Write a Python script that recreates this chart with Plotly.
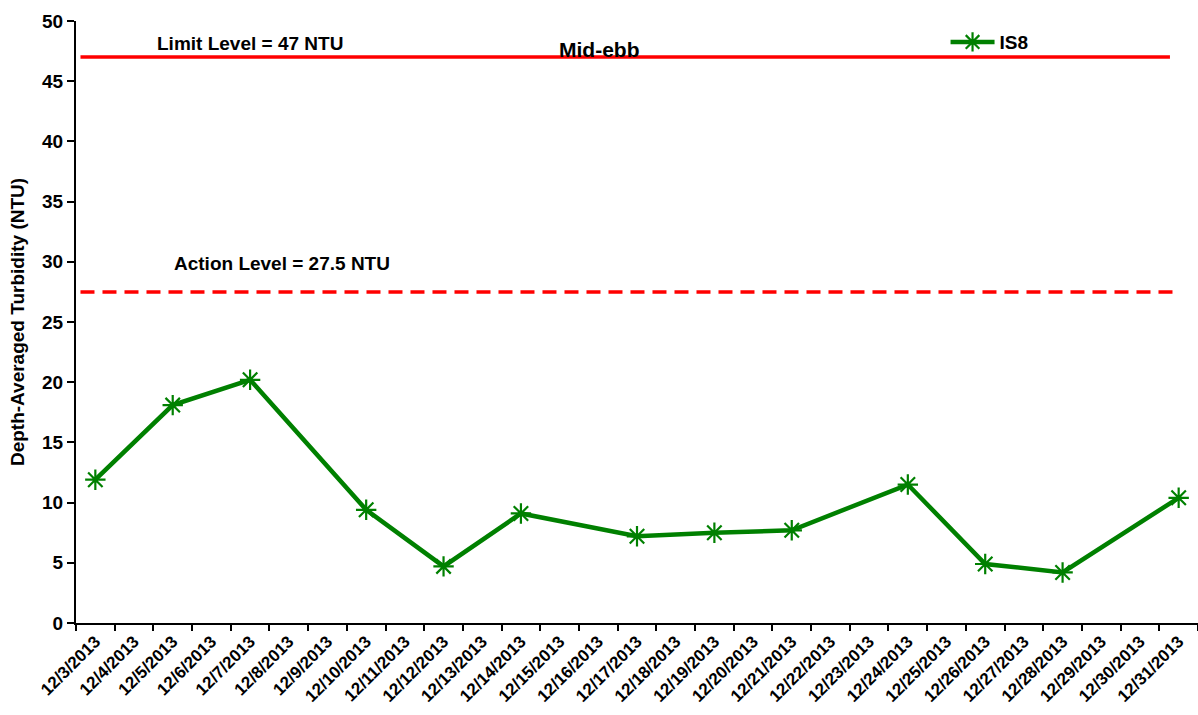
import plotly.graph_objects as go

# Category axis: every day of December 3-31, 2013
all_dates = [f"12/{d}/2013" for d in range(3, 32)]

# Monitoring days and depth-averaged turbidity at station IS8 (NTU)
sample_dates = ["12/3/2013", "12/5/2013", "12/7/2013", "12/10/2013", "12/12/2013",
                "12/14/2013", "12/17/2013", "12/19/2013", "12/21/2013", "12/24/2013",
                "12/26/2013", "12/28/2013", "12/31/2013"]
is8_turbidity = [11.9, 18.1, 20.2, 9.4, 4.7, 9.1, 7.2, 7.5, 7.7, 11.5, 4.9, 4.2, 10.4]

limit_level = 47
action_level = 27.5

FONT = "Liberation Sans, Arial, sans-serif"
GREEN = "#008000"
RED = "#FF0000"

fig = go.Figure()
fig.add_trace(go.Scatter(
    x=sample_dates, y=is8_turbidity, name="IS8", mode="lines+markers",
    line=dict(color=GREEN, width=4.5),
    marker=dict(symbol="asterisk-open", size=17, color=GREEN,
                line=dict(color=GREEN, width=2.2)),
))

# Limit and action reference levels
fig.add_shape(type="line", xref="paper", yref="y", x0=0.004, x1=0.975,
              y0=limit_level, y1=limit_level, line=dict(color=RED, width=3.5))
fig.add_shape(type="line", xref="paper", yref="y", x0=0.004, x1=0.98,
              y0=action_level, y1=action_level,
              line=dict(color=RED, width=3.5, dash="14px,8px"))

fig.add_annotation(text=f"<b>Limit Level = {limit_level} NTU</b>", xref="paper", yref="paper",
                   x=0.155, y=0.962, xanchor="center", yanchor="middle", showarrow=False,
                   font=dict(family=FONT, size=19, color="black"))
fig.add_annotation(text=f"<b>Action Level = {action_level} NTU</b>", xref="paper", yref="paper",
                   x=0.184, y=0.598, xanchor="center", yanchor="middle", showarrow=False,
                   font=dict(family=FONT, size=19, color="black"))
fig.add_annotation(text="<b>Mid-ebb</b>", xref="paper", yref="paper",
                   x=0.466, y=0.952, xanchor="center", yanchor="middle", showarrow=False,
                   font=dict(family=FONT, size=21, color="black"))

fig.update_layout(
    width=1198, height=715,
    margin=dict(l=76, r=0, t=21, b=92),
    paper_bgcolor="white", plot_bgcolor="white",
    font=dict(family=FONT, size=19, color="black"),
    showlegend=True,
    legend=dict(x=0.775, y=0.965, xanchor="left", yanchor="middle",
                bgcolor="rgba(0,0,0,0)", font=dict(family=FONT, size=19, weight="bold"),
                itemwidth=44),
    xaxis=dict(
        type="category", categoryorder="array", categoryarray=all_dates,
        range=[-0.5, len(all_dates) - 0.5],
        tickvals=all_dates, ticktext=[f"<b>{d}</b>" for d in all_dates],
        tickangle=-45, tickson="boundaries", ticks="outside", ticklen=6,
        tickcolor="black", tickwidth=2,
        showline=True, linecolor="black", linewidth=2,
        showgrid=False, zeroline=False,
        tickfont=dict(family=FONT, size=17, color="black"),
    ),
    yaxis=dict(
        range=[0, 50], dtick=5, tick0=0,
        ticks="outside", ticklen=7, tickcolor="black", tickwidth=2,
        showline=True, linecolor="black", linewidth=2,
        showgrid=False, zeroline=False,
        tickfont=dict(family=FONT, size=19, color="black", weight="bold"),
        title=dict(text="<b>Depth-Averaged Turbidity (NTU)</b>", standoff=12,
                   font=dict(family=FONT, size=19, color="black")),
    ),
)

fig.write_html("out.html")
